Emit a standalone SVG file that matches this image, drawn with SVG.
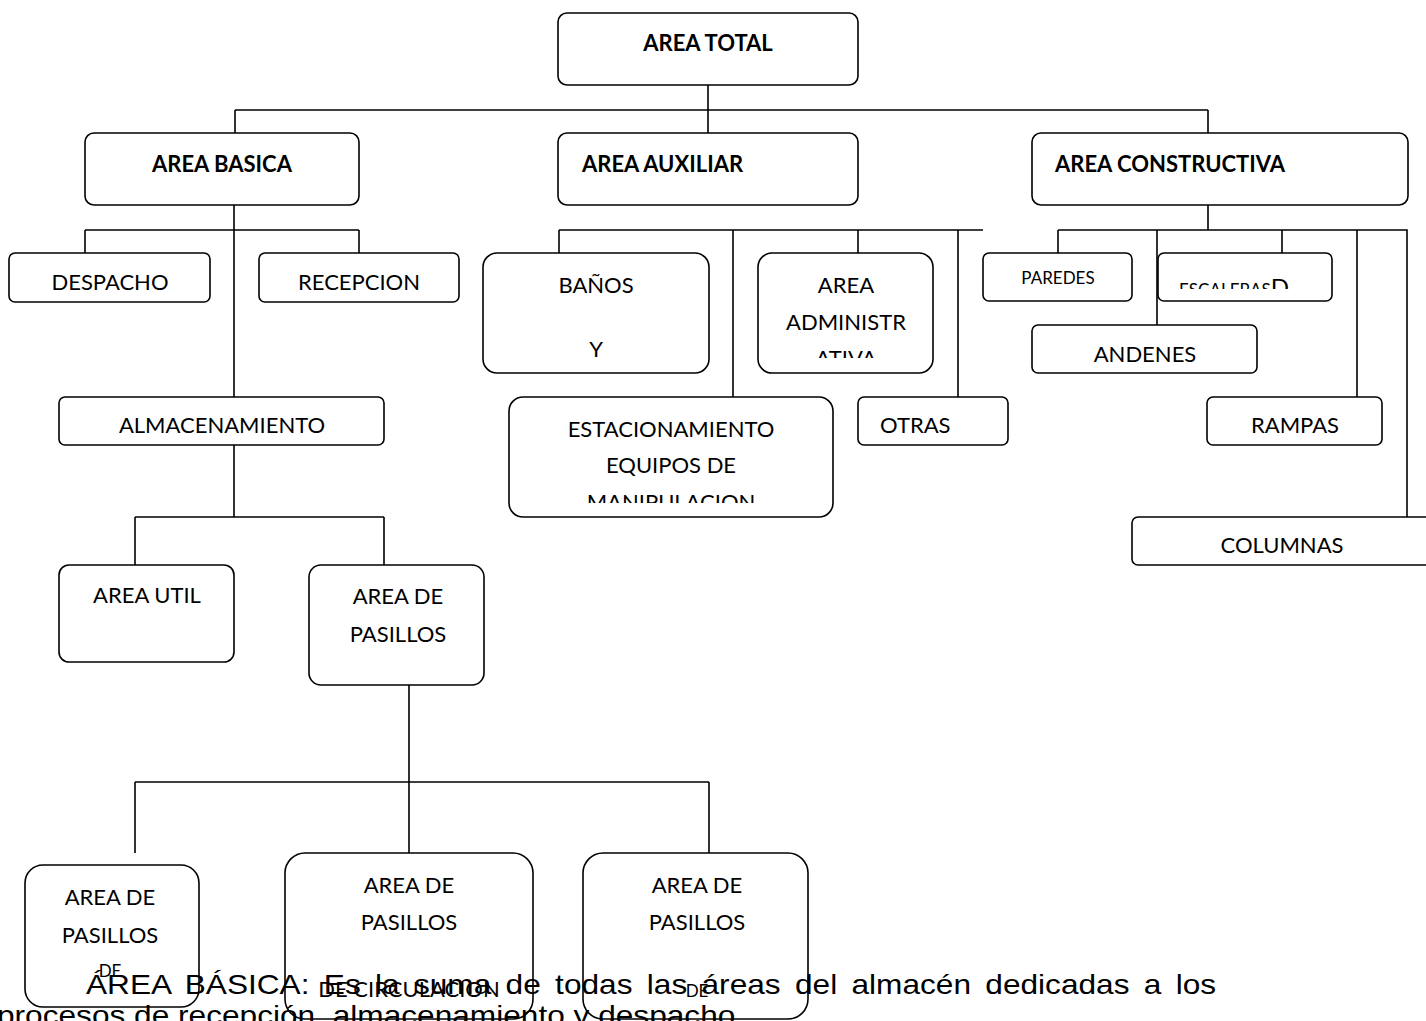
<svg xmlns="http://www.w3.org/2000/svg" width="1426" height="1021" viewBox="0 0 1426 1021">
<style>
.box{fill:#fff;stroke:#000;stroke-width:1.6}
.c{fill:none;stroke:#000;stroke-width:1.6}
.t{font-family:Lato,"Open Sans",sans-serif;font-size:22px;fill:#000;text-anchor:middle}
.l{text-anchor:start}
.b{font-weight:bold}
.s{font-size:17px}
.p{font-family:"Liberation Sans",Arial,sans-serif;font-size:28px;fill:#000}
</style>
<defs>
<clipPath id="cAdm"><rect x="758" y="253" width="175" height="105"/></clipPath>
<clipPath id="cEst"><rect x="509" y="397" width="324" height="106"/></clipPath>
<clipPath id="cEsc"><rect x="1158" y="253" width="174" height="36"/></clipPath>
</defs>
<rect width="1426" height="1021" fill="#fff"/>
<g id="connectors">
<path class="c" d="M708,85V110M235,110H1208M235,110V133M708,110V133M1208,110V133"/>
<path class="c" d="M234,205V397M85,230H359M85,230V253M359,230V253"/>
<path class="c" d="M234,445V517M135,517H384M135,517V565M384,517V565"/>
<path class="c" d="M409,685V782M135,782H709M135,782V853M409,782V853M709,782V853"/>
<path class="c" d="M559,230H983M559,230V253M733,230V397M858,230V253M958,230V397"/>
<path class="c" d="M1208,205V230M1058,230H1407V517M1058,230V253M1157,230V325M1282,230V253M1357,230V397"/>
</g>
<g id="n-total"><rect class="box" x="558" y="13" width="300" height="72" rx="9"/><text class="t b" x="708" y="51">AREA TOTAL</text></g>
<g id="n-basica"><rect class="box" x="85" y="133" width="274" height="72" rx="9"/><text class="t b" x="222" y="172">AREA BASICA</text></g>
<g id="n-auxiliar"><rect class="box" x="558" y="133" width="300" height="72" rx="9"/><text class="t b l" x="582" y="172">AREA AUXILIAR</text></g>
<g id="n-constructiva"><rect class="box" x="1032" y="133" width="376" height="72" rx="9"/><text class="t b l" x="1055" y="172">AREA CONSTRUCTIVA</text></g>
<g id="n-despacho"><rect class="box" x="9" y="253" width="201" height="49" rx="6"/><text class="t" x="110" y="290">DESPACHO</text></g>
<g id="n-recepcion"><rect class="box" x="259" y="253" width="200" height="49" rx="6"/><text class="t" x="359" y="290">RECEPCION</text></g>
<g id="n-almacenamiento"><rect class="box" x="59" y="397" width="325" height="48" rx="6"/><text class="t" x="222" y="433">ALMACENAMIENTO</text></g>
<g id="n-util"><rect class="box" x="59" y="565" width="175" height="97" rx="10"/><text class="t" x="147" y="603">AREA UTIL</text></g>
<g id="n-pasillos"><rect class="box" x="309" y="565" width="175" height="120" rx="12"/><text class="t" x="398" y="604">AREA DE</text><text class="t" x="398" y="642">PASILLOS</text></g>
<g id="n-banos"><rect class="box" x="483" y="253" width="226" height="120" rx="14"/><text class="t" x="596" y="293">BAÑOS</text><text class="t" x="596" y="357">Y</text></g>
<g id="n-administrativa"><rect class="box" x="758" y="253" width="175" height="120" rx="14"/><text class="t" x="846" y="293">AREA</text><text class="t" x="846" y="330">ADMINISTR</text><text class="t" x="846" y="366" clip-path="url(#cAdm)">ATIVA</text></g>
<g id="n-estacionamiento"><rect class="box" x="509" y="397" width="324" height="120" rx="14"/><text class="t" x="671" y="437">ESTACIONAMIENTO</text><text class="t" x="671" y="473">EQUIPOS DE</text><text class="t" x="671" y="510" clip-path="url(#cEst)">MANIPULACION</text></g>
<g id="n-otras"><rect class="box" x="858" y="397" width="150" height="48" rx="6"/><text class="t l" x="880" y="433">OTRAS</text></g>
<g id="n-paredes"><rect class="box" x="983" y="253" width="149" height="48" rx="6"/><text class="t s" x="1058" y="284">PAREDES</text></g>
<g id="n-escaleras"><rect class="box" x="1158" y="253" width="174" height="48" rx="6"/><text class="t l" x="1179" y="296" clip-path="url(#cEsc)"><tspan font-size="17">ESCALERAS</tspan><tspan font-size="24">D</tspan></text></g>
<g id="n-andenes"><rect class="box" x="1032" y="325" width="225" height="48" rx="6"/><text class="t" x="1145" y="362">ANDENES</text></g>
<g id="n-rampas"><rect class="box" x="1207" y="397" width="175" height="48" rx="6"/><text class="t" x="1295" y="433">RAMPAS</text></g>
<g id="n-columnas"><rect class="box" x="1132" y="517" width="310" height="48" rx="6"/><text class="t" x="1282" y="553">COLUMNAS</text></g>
<g id="n-pas1"><rect class="box" x="25" y="865" width="174" height="142" rx="18"/><text class="t" x="110" y="905">AREA DE</text><text class="t" x="110" y="943">PASILLOS</text><text class="t s" x="110" y="977">DE</text></g>
<g id="n-pas2"><rect class="box" x="285" y="853" width="248" height="166" rx="20"/><text class="t" x="409" y="893">AREA DE</text><text class="t" x="409" y="930">PASILLOS</text><text class="t" font-size="19" x="409" y="997">DE CIRCULACION</text></g>
<g id="n-pas3"><rect class="box" x="583" y="853" width="225" height="166" rx="20"/><text class="t" x="697" y="893">AREA DE</text><text class="t" x="697" y="930">PASILLOS</text><text class="t s" x="697" y="997">DE</text></g>
<text class="p" transform="translate(86,994) scale(1.13,1)" word-spacing="4.9">ÁREA BÁSICA: Es la suma de todas las áreas del almacén dedicadas a los</text>
<text class="p" transform="translate(-3,1025) scale(1.13,1)">procesos de recepción, almacenamiento y despacho.</text>
</svg>
